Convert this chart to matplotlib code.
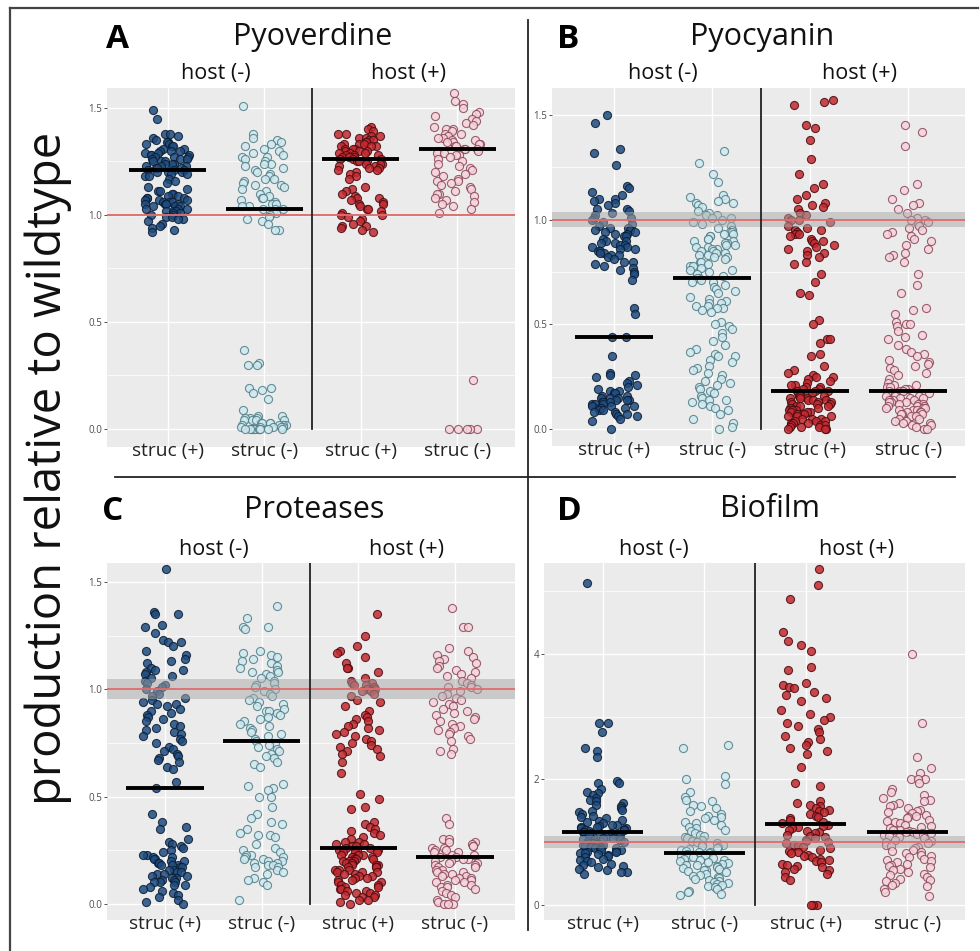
import numpy as np
import matplotlib.pyplot as plt
from matplotlib.lines import Line2D
from matplotlib.transforms import blended_transform_factory

plt.rcParams['font.family'] = ['Open Sans', 'DejaVu Sans']

titles = ['Pyoverdine', 'Pyocyanin', 'Proteases', 'Biofilm']
letters = ['A', 'B', 'C', 'D']
host_labels = ['host (-)', 'host (+)']
struc_labels = ['struc (+)', 'struc (-)', 'struc (+)', 'struc (-)']

# ---- Pyoverdine ----
pyo_hneg_sp = [1.49, 1.45, 1.38, 1.38, 1.37, 1.36, 1.35, 1.34, 1.34, 1.33, 1.33, 1.32, 1.32, 1.31, 1.31,
               1.30, 1.30, 1.30, 1.29, 1.29, 1.28, 1.28, 1.28, 1.27, 1.27, 1.27, 1.26, 1.26, 1.26, 1.25,
               1.25, 1.25, 1.24, 1.24, 1.24, 1.23, 1.23, 1.23, 1.22, 1.22, 1.22, 1.21, 1.21, 1.21, 1.20,
               1.20, 1.20, 1.19, 1.19, 1.18, 1.18, 1.17, 1.16, 1.15, 1.13, 1.12, 1.11, 1.11, 1.10, 1.10,
               1.09, 1.09, 1.08, 1.08, 1.08, 1.07, 1.07, 1.07, 1.06, 1.06, 1.06, 1.05, 1.05, 1.05, 1.05,
               1.04, 1.04, 1.04, 1.03, 1.03, 1.03, 1.02, 1.02, 1.02, 1.01, 1.01, 1.00, 1.00, 0.99, 0.99,
               0.98, 0.98, 0.97, 0.96, 0.95, 0.94, 0.93, 0.92]
pyo_hneg_sm = [1.51, 1.38, 1.36, 1.35, 1.34, 1.33, 1.32, 1.31, 1.30, 1.29, 1.28, 1.27, 1.27, 1.26, 1.25,
               1.24, 1.24, 1.23, 1.22, 1.21, 1.20, 1.19, 1.18, 1.17, 1.17, 1.16, 1.15, 1.14, 1.14, 1.13,
               1.12, 1.11, 1.10, 1.09, 1.08, 1.08, 1.07, 1.06, 1.05, 1.05, 1.04, 1.04, 1.03, 1.03, 1.03,
               1.02, 1.02, 1.01, 1.00, 0.99, 0.98, 0.97, 0.96, 0.93, 0.93, 0.37, 0.31, 0.30, 0.30, 0.19,
               0.19, 0.18, 0.17, 0.14, 0.09, 0.06, 0.06, 0.05, 0.05, 0.05, 0.04, 0.04, 0.04, 0.04, 0.03,
               0.03, 0.03, 0.03, 0.02, 0.02, 0.02, 0.02, 0.01, 0.01, 0.01, 0.01, 0.01, 0.0, 0.0, 0.0,
               0.0, 0.0, 0.0, 0.0, 0.0, 0.0, 0.0]
pyo_hpos_sp = [1.41, 1.40, 1.39, 1.38, 1.38, 1.37, 1.37, 1.36, 1.36, 1.35, 1.35, 1.34, 1.34, 1.33, 1.33,
               1.33, 1.32, 1.32, 1.32, 1.31, 1.31, 1.31, 1.30, 1.30, 1.30, 1.29, 1.29, 1.29, 1.28, 1.28,
               1.28, 1.27, 1.27, 1.27, 1.26, 1.26, 1.26, 1.25, 1.25, 1.25, 1.24, 1.24, 1.24, 1.23, 1.23,
               1.22, 1.22, 1.21, 1.21, 1.20, 1.19, 1.18, 1.17, 1.13, 1.12, 1.11, 1.10, 1.09, 1.08, 1.08,
               1.07, 1.06, 1.05, 1.05, 1.04, 1.03, 1.03, 1.02, 1.01, 1.00, 1.00, 0.99, 0.98, 0.97, 0.96,
               0.95, 0.95, 0.94, 0.93, 0.92]
pyo_hpos_sm = [1.57, 1.53, 1.52, 1.50, 1.48, 1.47, 1.46, 1.45, 1.44, 1.43, 1.42, 1.41, 1.40, 1.40, 1.39,
               1.38, 1.38, 1.37, 1.36, 1.36, 1.35, 1.35, 1.34, 1.34, 1.33, 1.33, 1.32, 1.32, 1.31, 1.31,
               1.31, 1.30, 1.30, 1.29, 1.29, 1.28, 1.28, 1.27, 1.26, 1.25, 1.24, 1.23, 1.22, 1.21, 1.20,
               1.19, 1.18, 1.17, 1.16, 1.16, 1.15, 1.14, 1.13, 1.12, 1.11, 1.10, 1.10, 1.09, 1.08, 1.07,
               1.06, 1.05, 1.04, 1.03, 1.01, 0.23, 0.0, 0.0, 0.0, 0.0, 0.0]

# ---- Pyocyanin ----
pyc_hneg_sp = [1.50, 1.46, 1.34, 1.32, 1.26, 1.16, 1.15, 1.13, 1.12, 1.10, 1.10, 1.09, 1.08, 1.07, 1.05,
               1.05, 1.04, 1.03, 1.02, 1.01, 1.01, 1.00, 0.99, 0.98, 0.97, 0.96, 0.96, 0.95, 0.95, 0.94,
               0.94, 0.93, 0.93, 0.92, 0.92, 0.91, 0.90, 0.90, 0.89, 0.89, 0.88, 0.88, 0.87, 0.87, 0.86,
               0.86, 0.85, 0.85, 0.84, 0.84, 0.83, 0.83, 0.82, 0.81, 0.80, 0.80, 0.79, 0.78, 0.77, 0.76,
               0.75, 0.74, 0.71, 0.58, 0.55, 0.44, 0.44, 0.35, 0.27, 0.26, 0.26, 0.25, 0.23, 0.22, 0.21,
               0.20, 0.19, 0.18, 0.18, 0.17, 0.17, 0.16, 0.16, 0.15, 0.15, 0.15, 0.14, 0.14, 0.14, 0.13,
               0.13, 0.13, 0.12, 0.12, 0.12, 0.11, 0.11, 0.11, 0.10, 0.10, 0.10, 0.09, 0.09, 0.08, 0.08,
               0.07, 0.07, 0.06, 0.06, 0.05, 0.04, 0.0]
pyc_hneg_sm = [1.33, 1.27, 1.22, 1.18, 1.12, 1.11, 1.10, 1.09, 1.08, 1.08, 1.07, 1.06, 1.04, 1.03, 1.02,
               1.02, 1.01, 1.01, 1.00, 0.99, 0.98, 0.97, 0.96, 0.95, 0.95, 0.94, 0.94, 0.93, 0.93, 0.92,
               0.92, 0.91, 0.91, 0.90, 0.90, 0.89, 0.89, 0.88, 0.88, 0.87, 0.87, 0.86, 0.86, 0.85, 0.85,
               0.84, 0.84, 0.83, 0.83, 0.82, 0.82, 0.81, 0.80, 0.80, 0.79, 0.78, 0.78, 0.77, 0.76, 0.76,
               0.75, 0.74, 0.73, 0.72, 0.72, 0.71, 0.70, 0.70, 0.69, 0.68, 0.67, 0.66, 0.65, 0.63, 0.62,
               0.61, 0.60, 0.60, 0.59, 0.59, 0.58, 0.58, 0.57, 0.56, 0.51, 0.50, 0.49, 0.48, 0.46, 0.44,
               0.42, 0.40, 0.38, 0.37, 0.36, 0.35, 0.35, 0.33, 0.32, 0.30, 0.29, 0.28, 0.27, 0.26, 0.24,
               0.23, 0.22, 0.21, 0.20, 0.19, 0.18, 0.17, 0.16, 0.15, 0.14, 0.14, 0.13, 0.12, 0.11, 0.10,
               0.09, 0.07, 0.05, 0.03, 0.01, 0.0]
pyc_hpos_sp = [1.57, 1.56, 1.55, 1.45, 1.44, 1.38, 1.29, 1.22, 1.17, 1.15, 1.12, 1.10, 1.08, 1.07, 1.06,
               1.05, 1.03, 1.02, 1.01, 1.00, 1.00, 0.99, 0.97, 0.96, 0.95, 0.95, 0.94, 0.93, 0.93, 0.92,
               0.91, 0.90, 0.90, 0.89, 0.88, 0.87, 0.86, 0.85, 0.84, 0.83, 0.82, 0.80, 0.79, 0.74, 0.70,
               0.65, 0.64, 0.52, 0.50, 0.43, 0.43, 0.41, 0.36, 0.35, 0.30, 0.28, 0.27, 0.26, 0.25, 0.25,
               0.24, 0.23, 0.22, 0.21, 0.21, 0.20, 0.20, 0.19, 0.19, 0.18, 0.18, 0.18, 0.17, 0.17, 0.17,
               0.16, 0.16, 0.16, 0.15, 0.15, 0.15, 0.14, 0.14, 0.14, 0.13, 0.13, 0.13, 0.12, 0.12, 0.12,
               0.11, 0.11, 0.11, 0.10, 0.10, 0.10, 0.09, 0.09, 0.09, 0.08, 0.08, 0.08, 0.07, 0.07, 0.07,
               0.06, 0.06, 0.06, 0.05, 0.05, 0.05, 0.04, 0.04, 0.04, 0.03, 0.03, 0.03, 0.02, 0.02, 0.02,
               0.01, 0.01, 0.01, 0.0, 0.0, 0.0]
pyc_hpos_sm = [1.45, 1.42, 1.35, 1.17, 1.14, 1.10, 1.08, 1.07, 1.05, 1.03, 1.01, 1.00, 1.00, 0.99, 0.98,
               0.97, 0.96, 0.95, 0.94, 0.93, 0.92, 0.91, 0.90, 0.88, 0.86, 0.84, 0.83, 0.82, 0.80, 0.74,
               0.69, 0.65, 0.58, 0.57, 0.55, 0.51, 0.50, 0.50, 0.49, 0.47, 0.45, 0.44, 0.43, 0.40, 0.38,
               0.37, 0.36, 0.35, 0.33, 0.32, 0.31, 0.30, 0.29, 0.28, 0.27, 0.26, 0.24, 0.22, 0.21, 0.21,
               0.20, 0.20, 0.19, 0.19, 0.18, 0.18, 0.18, 0.17, 0.17, 0.16, 0.16, 0.16, 0.15, 0.15, 0.15,
               0.14, 0.14, 0.14, 0.13, 0.13, 0.13, 0.12, 0.12, 0.12, 0.11, 0.11, 0.11, 0.10, 0.10, 0.10,
               0.09, 0.09, 0.09, 0.08, 0.08, 0.08, 0.07, 0.07, 0.07, 0.06, 0.06, 0.05, 0.05, 0.04, 0.04,
               0.03, 0.03, 0.02, 0.02, 0.01, 0.0, 0.0]

# ---- Proteases ----
pro_hneg_sp = [1.56, 1.36, 1.35, 1.35, 1.30, 1.29, 1.26, 1.23, 1.22, 1.22, 1.20, 1.18, 1.16, 1.14, 1.13,
               1.12, 1.10, 1.09, 1.09, 1.08, 1.07, 1.06, 1.05, 1.04, 1.03, 1.02, 1.01, 1.00, 0.99, 0.98,
               0.97, 0.96, 0.95, 0.94, 0.93, 0.93, 0.92, 0.91, 0.90, 0.89, 0.88, 0.87, 0.86, 0.85, 0.84,
               0.83, 0.82, 0.81, 0.80, 0.79, 0.78, 0.77, 0.76, 0.75, 0.73, 0.72, 0.71, 0.70, 0.69, 0.68,
               0.67, 0.66, 0.64, 0.63, 0.57, 0.54, 0.42, 0.38, 0.36, 0.35, 0.30, 0.29, 0.28, 0.27, 0.26,
               0.25, 0.24, 0.23, 0.23, 0.22, 0.22, 0.21, 0.21, 0.20, 0.20, 0.19, 0.19, 0.18, 0.18, 0.18,
               0.17, 0.17, 0.16, 0.16, 0.15, 0.15, 0.14, 0.14, 0.13, 0.13, 0.12, 0.12, 0.11, 0.11, 0.10,
               0.10, 0.10, 0.09, 0.09, 0.08, 0.07, 0.06, 0.05, 0.04, 0.03, 0.02, 0.01, 0.0]
pro_hneg_sm = [1.39, 1.33, 1.29, 1.29, 1.28, 1.18, 1.17, 1.16, 1.15, 1.14, 1.13, 1.12, 1.11, 1.10, 1.09,
               1.08, 1.08, 1.07, 1.06, 1.05, 1.04, 1.03, 1.02, 1.01, 1.00, 0.99, 0.98, 0.97, 0.96, 0.95,
               0.94, 0.93, 0.92, 0.91, 0.90, 0.90, 0.89, 0.88, 0.87, 0.86, 0.85, 0.84, 0.83, 0.82, 0.81,
               0.80, 0.79, 0.78, 0.77, 0.76, 0.75, 0.74, 0.73, 0.72, 0.71, 0.70, 0.69, 0.68, 0.66, 0.65,
               0.64, 0.56, 0.55, 0.54, 0.53, 0.50, 0.50, 0.45, 0.42, 0.40, 0.38, 0.37, 0.35, 0.33, 0.32,
               0.32, 0.31, 0.28, 0.26, 0.25, 0.24, 0.23, 0.23, 0.22, 0.22, 0.21, 0.21, 0.20, 0.20, 0.19,
               0.19, 0.18, 0.18, 0.17, 0.17, 0.16, 0.15, 0.14, 0.12, 0.11, 0.10, 0.09, 0.02]
pro_hpos_sp = [1.35, 1.25, 1.20, 1.18, 1.17, 1.15, 1.12, 1.10, 1.10, 1.08, 1.05, 1.04, 1.03, 1.03, 1.02,
               1.02, 1.01, 1.00, 1.00, 0.99, 0.99, 0.98, 0.97, 0.95, 0.94, 0.92, 0.90, 0.88, 0.87, 0.86,
               0.85, 0.84, 0.83, 0.82, 0.81, 0.80, 0.79, 0.78, 0.77, 0.76, 0.75, 0.74, 0.73, 0.72, 0.71,
               0.70, 0.69, 0.66, 0.61, 0.51, 0.49, 0.45, 0.44, 0.38, 0.37, 0.36, 0.35, 0.34, 0.33, 0.32,
               0.31, 0.30, 0.29, 0.29, 0.28, 0.28, 0.27, 0.27, 0.26, 0.26, 0.25, 0.25, 0.25, 0.24, 0.24,
               0.24, 0.23, 0.23, 0.23, 0.22, 0.22, 0.22, 0.21, 0.21, 0.21, 0.20, 0.20, 0.20, 0.19, 0.19,
               0.19, 0.18, 0.18, 0.18, 0.17, 0.17, 0.17, 0.16, 0.16, 0.16, 0.15, 0.15, 0.15, 0.14, 0.14,
               0.13, 0.13, 0.12, 0.12, 0.11, 0.11, 0.10, 0.10, 0.09, 0.09, 0.08, 0.08, 0.07, 0.07, 0.06,
               0.06, 0.05, 0.05, 0.04, 0.04, 0.03, 0.03, 0.02, 0.02, 0.01, 0.0]
pro_hpos_sm = [1.38, 1.29, 1.29, 1.19, 1.18, 1.16, 1.15, 1.14, 1.13, 1.12, 1.11, 1.10, 1.09, 1.08, 1.07,
               1.06, 1.05, 1.04, 1.03, 1.02, 1.01, 1.01, 1.00, 0.99, 0.98, 0.97, 0.96, 0.95, 0.94, 0.93,
               0.92, 0.91, 0.90, 0.89, 0.88, 0.87, 0.86, 0.85, 0.84, 0.83, 0.82, 0.81, 0.80, 0.79, 0.78,
               0.77, 0.76, 0.72, 0.71, 0.70, 0.40, 0.37, 0.30, 0.30, 0.29, 0.29, 0.28, 0.27, 0.27, 0.26,
               0.26, 0.25, 0.25, 0.24, 0.24, 0.23, 0.23, 0.22, 0.22, 0.21, 0.21, 0.20, 0.20, 0.19, 0.19,
               0.18, 0.18, 0.17, 0.17, 0.16, 0.16, 0.15, 0.15, 0.14, 0.14, 0.13, 0.13, 0.12, 0.12, 0.11,
               0.11, 0.10, 0.10, 0.09, 0.09, 0.08, 0.08, 0.07, 0.06, 0.05, 0.04, 0.03, 0.02, 0.01, 0.0,
               0.0, 0.0]

# ---- Biofilm ----
bio_hneg_sp = [5.13, 2.90, 2.90, 2.75, 2.50, 2.45, 2.35, 1.98, 1.95, 1.95, 1.85, 1.80, 1.78, 1.75, 1.70,
               1.68, 1.65, 1.62, 1.60, 1.58, 1.55, 1.52, 1.50, 1.48, 1.45, 1.42, 1.40, 1.38, 1.36, 1.34,
               1.32, 1.30, 1.28, 1.27, 1.26, 1.25, 1.24, 1.23, 1.22, 1.21, 1.20, 1.19, 1.18, 1.17, 1.16,
               1.15, 1.14, 1.13, 1.12, 1.11, 1.10, 1.09, 1.08, 1.07, 1.06, 1.05, 1.04, 1.03, 1.02, 1.01,
               1.00, 0.99, 0.98, 0.97, 0.96, 0.95, 0.94, 0.93, 0.92, 0.91, 0.90, 0.89, 0.88, 0.87, 0.86,
               0.85, 0.84, 0.83, 0.82, 0.81, 0.80, 0.78, 0.76, 0.74, 0.72, 0.70, 0.68, 0.66, 0.64, 0.62,
               0.60, 0.58, 0.55, 0.53, 0.53, 0.50]
bio_hneg_sm = [2.55, 2.50, 2.05, 2.00, 1.92, 1.80, 1.72, 1.68, 1.65, 1.60, 1.58, 1.55, 1.50, 1.45, 1.42,
               1.40, 1.38, 1.35, 1.32, 1.30, 1.28, 1.25, 1.22, 1.20, 1.18, 1.15, 1.12, 1.10, 1.08, 1.06,
               1.04, 1.02, 1.00, 0.98, 0.96, 0.95, 0.94, 0.92, 0.90, 0.89, 0.88, 0.86, 0.85, 0.84, 0.82,
               0.81, 0.80, 0.78, 0.77, 0.76, 0.75, 0.74, 0.72, 0.71, 0.70, 0.68, 0.67, 0.66, 0.64, 0.63,
               0.62, 0.60, 0.59, 0.58, 0.56, 0.55, 0.54, 0.52, 0.50, 0.48, 0.46, 0.45, 0.43, 0.42, 0.40,
               0.38, 0.37, 0.35, 0.33, 0.32, 0.30, 0.28, 0.25, 0.22, 0.20, 0.18, 0.16]
bio_hpos_sp = [5.35, 5.10, 4.88, 4.35, 4.20, 4.15, 4.05, 3.80, 3.75, 3.54, 3.50, 3.48, 3.45, 3.40, 3.35,
               3.30, 3.25, 3.10, 3.05, 3.00, 2.95, 2.90, 2.85, 2.80, 2.75, 2.70, 2.65, 2.60, 2.55, 2.50,
               2.45, 2.40, 2.20, 1.95, 1.90, 1.65, 1.62, 1.60, 1.58, 1.55, 1.52, 1.50, 1.48, 1.45, 1.42,
               1.40, 1.38, 1.35, 1.32, 1.30, 1.28, 1.26, 1.24, 1.22, 1.20, 1.18, 1.16, 1.14, 1.12, 1.10,
               1.08, 1.06, 1.04, 1.02, 1.00, 0.98, 0.96, 0.94, 0.92, 0.90, 0.88, 0.86, 0.84, 0.82, 0.80,
               0.78, 0.76, 0.74, 0.72, 0.70, 0.68, 0.66, 0.64, 0.62, 0.60, 0.58, 0.55, 0.52, 0.50, 0.45,
               0.40, 0.0, 0.0, 0.0]
bio_hpos_sm = [4.00, 2.90, 2.36, 2.18, 2.10, 2.00, 2.00, 2.00, 1.95, 1.85, 1.80, 1.75, 1.70, 1.68, 1.65,
               1.62, 1.60, 1.58, 1.55, 1.52, 1.50, 1.48, 1.46, 1.44, 1.42, 1.40, 1.38, 1.36, 1.34, 1.32,
               1.30, 1.28, 1.26, 1.24, 1.22, 1.20, 1.19, 1.18, 1.17, 1.16, 1.15, 1.14, 1.13, 1.12, 1.11,
               1.10, 1.08, 1.06, 1.04, 1.02, 1.00, 0.98, 0.96, 0.94, 0.92, 0.90, 0.88, 0.86, 0.84, 0.82,
               0.80, 0.78, 0.76, 0.74, 0.72, 0.70, 0.68, 0.66, 0.64, 0.62, 0.60, 0.58, 0.55, 0.52, 0.50,
               0.48, 0.45, 0.42, 0.40, 0.38, 0.35, 0.32, 0.30, 0.25, 0.20, 0.15]

# medians (black bars)
pyo_medians = [1.21, 1.03, 1.26, 1.31]
pyc_medians = [0.44, 0.72, 0.18, 0.18]
pro_medians = [0.54, 0.76, 0.26, 0.22]
bio_medians = [1.16, 0.83, 1.29, 1.16]

# half width of the grey band around wildtype = 1
wt_band = [0.006, 0.035, 0.047, 0.10]

panel_groups = [
    [pyo_hneg_sp, pyo_hneg_sm, pyo_hpos_sp, pyo_hpos_sm],
    [pyc_hneg_sp, pyc_hneg_sm, pyc_hpos_sp, pyc_hpos_sm],
    [pro_hneg_sp, pro_hneg_sm, pro_hpos_sp, pro_hpos_sm],
    [bio_hneg_sp, bio_hneg_sm, bio_hpos_sp, bio_hpos_sm],
]
panel_medians = [pyo_medians, pyc_medians, pro_medians, bio_medians]

fill_colors = ['#1f4c80', '#d0e9ef', '#c22a30', '#f6d4dc']
edge_colors = ['#0b1e33', '#4e7d88', '#4a0c10', '#8c4658']

W, H = 980, 951
fig = plt.figure(figsize=(W / 100, H / 100), dpi=100)

# panel boxes in pixels (left, top, right, bottom), x/y limits
boxes = [(107, 88, 515, 447), (552, 88, 965, 446), (107, 563, 515, 920), (544, 563, 965, 920)]
xlims = [(0.37, 4.6), (0.367, 4.58), (0.4, 4.62), (0.42, 4.57)]
ylims = [(-0.084, 1.593), (-0.081, 1.629), (-0.075, 1.588), (-0.24, 5.45)]


def jitter(n, seed, width=0.24):
    # deterministic hash-based horizontal spread (layout only, not data)
    k = np.arange(n) + 37.0 * seed
    frac = np.modf(np.abs(np.sin(k * 12.9898 + 78.233) * 43758.5453))[0]
    return (frac - 0.5) * 2 * width


for p in range(4):
    l, t, r, b = boxes[p]
    ax = fig.add_axes([l / W, 1 - b / H, (r - l) / W, (b - t) / H])
    ax.set_facecolor('#ebebeb')
    for s in ax.spines.values():
        s.set_visible(False)
    ax.set_xlim(*xlims[p])
    ax.set_ylim(*ylims[p])
    if p == 3:
        ax.set_yticks([0, 2, 4])
        ax.set_yticks([1, 3, 5], minor=True)
        ax.set_yticklabels(['0', '2', '4'])
    else:
        ax.set_yticks([0, 0.5, 1.0, 1.5])
        ax.set_yticks([0.25, 0.75, 1.25], minor=True)
        ax.set_yticklabels(['0.0', '0.5', '1.0', '1.5'])
    ax.set_xticks([1, 2, 3, 4])
    ax.set_xticklabels([])
    ax.tick_params(axis='x', length=0)
    ax.tick_params(axis='y', which='major', length=2, width=0.6, color='#333333',
                   labelsize=7, labelcolor='#4d4d4d', pad=1.5)
    ax.tick_params(axis='y', which='minor', length=0)
    ax.grid(True, which='major', color='white', lw=1.0)
    ax.grid(True, which='minor', axis='y', color='white', lw=0.5)
    ax.set_axisbelow(True)

    for g, vals in enumerate(panel_groups[p]):
        y = np.array(vals)
        x = (g + 1) + jitter(len(y), 4 * p + g)
        ax.scatter(x, y, s=34, c=fill_colors[g], edgecolors=edge_colors[g],
                   linewidths=0.8, alpha=0.85, zorder=3)
        ax.hlines(panel_medians[p][g], g + 1 - 0.4, g + 1 + 0.4, color='black', lw=2.8, zorder=6)

    ax.axhspan(1 - wt_band[p], 1 + wt_band[p], color='#a8a8a8', alpha=0.5, lw=0, zorder=4)
    ax.axhline(1, color='#e06a6a', lw=1.3, zorder=5)
    ax.plot([2.5, 2.5], [0, ylims[p][1]], color='#222222', lw=1.3, zorder=5)

    tr = blended_transform_factory(ax.transData, ax.transAxes)
    off = -9 / (b - t)
    for g in range(4):
        ax.text(g + 1, off, struc_labels[g], transform=tr, ha='center', va='baseline',
                fontsize=13.8, color='#222222')
    for h in range(2):
        ax.text(1.5 + 2 * h, 1 + 14 / (b - t), host_labels[h], transform=tr, ha='center',
                va='center', fontsize=15.5, color='#111111')

# titles and panel letters (pixel positions)
title_pos = [(313, 37), (762, 37), (314, 510), (770, 509)]
letter_pos = [(106, 39), (557, 39), (102, 512), (557, 511)]
for p in range(4):
    tx, ty = title_pos[p]
    fig.text(tx / W, 1 - ty / H, titles[p], ha='center', va='center', fontsize=22, color='#111111')
    lx, ly = letter_pos[p]
    fig.text(lx / W, 1 - ly / H, letters[p], ha='left', va='center', fontsize=24,
             fontweight='bold', color='black')

fig.text(48 / W, 1 - 468 / H, 'production relative to wildtype', rotation=90, ha='center',
         va='center', fontsize=34, color='#111111')

# frame lines around / between panels
def fig_line(x0, y0, x1, y1, lw, color):
    fig.add_artist(Line2D([x0 / W, x1 / W], [1 - y0 / H, 1 - y1 / H], transform=fig.transFigure,
                          lw=lw, color=color))

fig_line(10, 8, 978, 8, 1.6, '#444444')
fig_line(10, 8, 10, 951, 1.6, '#444444')
fig_line(528, 20, 528, 930, 1.3, '#222222')
fig_line(115, 477, 955, 477, 1.3, '#222222')

fig.savefig('out.png', dpi=100)
